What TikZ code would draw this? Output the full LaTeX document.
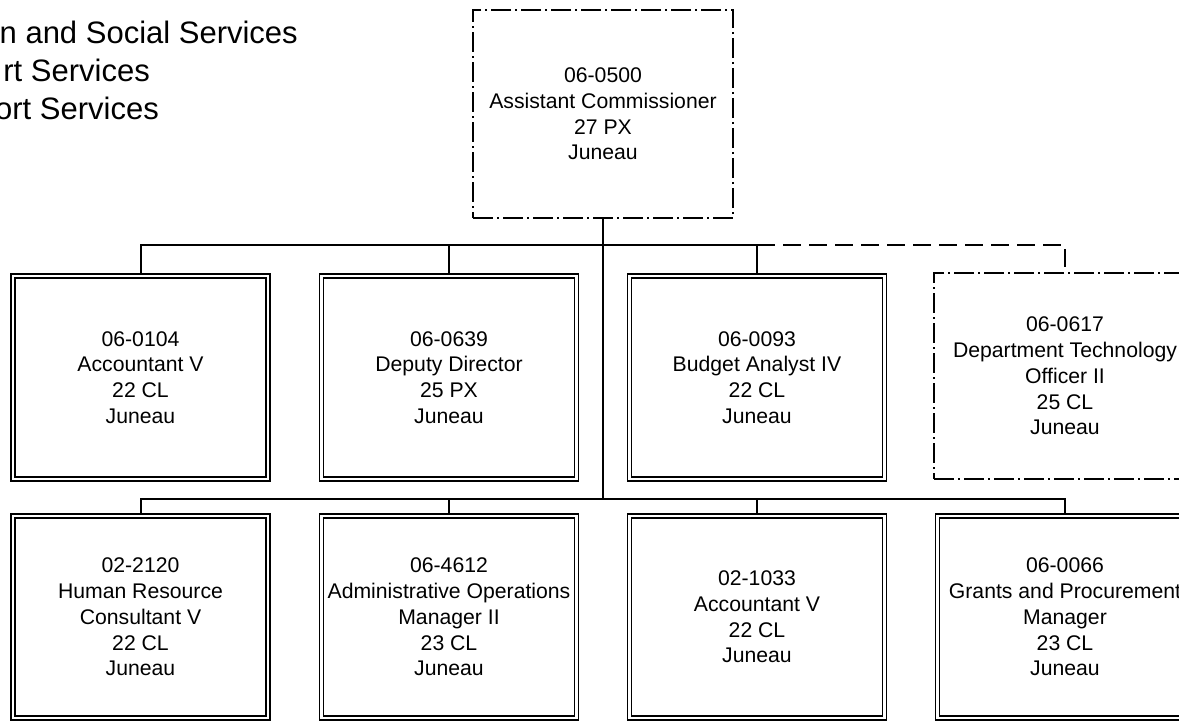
\documentclass[tikz,border=0pt]{standalone}
\usepackage{fontspec}
\setmainfont{Liberation Sans}
\usetikzlibrary{backgrounds}
\tikzset{
  posbox/.style={rectangle, draw=black, line width=1.7pt, double=white, double distance=2.5pt,
    minimum width=255pt, minimum height=203pt, inner sep=0pt, outer sep=0pt, align=center,
    font=\fontsize{21.2}{25.7}\selectfont},
  vacbox/.style={rectangle, draw=black, line width=1.6pt, dash pattern=on 20pt off 4pt on 2pt off 4pt,
    inner sep=0pt, outer sep=0pt, align=center, font=\fontsize{21.2}{25.7}\selectfont},
  conn/.style={draw=black, line width=2pt},
  dconn/.style={draw=black, line width=2pt, dash pattern=on 18pt off 8pt},
  titletext/.style={anchor=base east, inner sep=0pt, font=\fontsize{31}{38}\selectfont}
}
\begin{document}
\begin{tikzpicture}[x=1pt,y=-1pt]
\useasboundingbox (0,0) rectangle (1179,721);
\clip (0,0) rectangle (1179,721);

% title (cut off at the left edge)
\node[titletext] (t1) at (298,43.3) {n and Social Services};
\node[titletext] (t2) at (150,81.7) {rt Services};
\node[titletext] (t3) at (159,119.3) {ort Services};

% top position
\node[vacbox, minimum width=260pt, minimum height=208pt] (top) at (603,114)
  {06-0500\\Assistant Commissioner\\27 PX\\Juneau};

% first row
\node[posbox] (a1) at (140.5,377.5) {06-0104\\Accountant V\\22 CL\\Juneau};
\node[posbox] (a2) at (449,377.5) {06-0639\\Deputy Director\\25 PX\\Juneau};
\node[posbox] (a3) at (757,377.5) {06-0093\\Budget Analyst IV\\22 CL\\Juneau};
\node[vacbox, minimum width=262pt, minimum height=206pt] (a4) at (1065,376)
  {06-0617\\Department Technology\\Officer II\\25 CL\\Juneau};

% second row
\node[posbox, minimum height=202pt] (b1) at (140.5,617) {02-2120\\Human Resource\\Consultant V\\22 CL\\Juneau};
\node[posbox, minimum height=202pt] (b2) at (449,617) {06-4612\\Administrative Operations\\Manager II\\23 CL\\Juneau};
\node[posbox, minimum height=202pt] (b3) at (757,617) {02-1033\\Accountant V\\22 CL\\Juneau};
\node[posbox, minimum height=202pt] (b4) at (1065,617) {06-0066\\Grants and Procurement\\Manager\\23 CL\\Juneau};

\coordinate (j1) at (603,245);
\coordinate (j2) at (603,499);

\begin{scope}[on background layer]
\draw[conn] (top.south) -- (j2);
\draw[conn] (a1.north) |- (j1);
\draw[conn] (a2.north) |- (j1);
\draw[conn] (a3.north) |- (j1);
\draw[dconn] (a3.north |- j1) -| (a4.north);
\draw[conn] (b1.north) |- (j2);
\draw[conn] (b2.north) |- (j2);
\draw[conn] (b3.north) |- (j2);
\draw[conn] (b4.north) |- (j2);
\end{scope}
\end{tikzpicture}
\end{document}
